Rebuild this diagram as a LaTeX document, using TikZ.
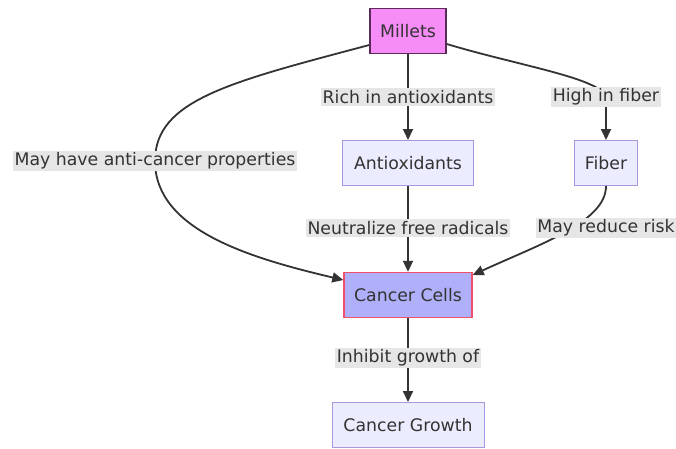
\documentclass[tikz,border=0pt]{standalone}
\usepackage{fontspec}
\setmainfont{DejaVu Sans}
\usetikzlibrary{arrows.meta,backgrounds}
\definecolor{txt}{HTML}{333333}
\definecolor{defill}{HTML}{ECECFF}
\definecolor{deline}{HTML}{A898E0}
\definecolor{milfill}{HTML}{F68CF6}
\definecolor{milline}{HTML}{5A2A5A}
\definecolor{ccfill}{HTML}{B0B0FA}
\definecolor{ccline}{HTML}{F0506A}
\definecolor{labbg}{HTML}{E6E6E6}
\tikzset{
  box/.style={draw=deline, fill=defill, line width=1pt, minimum height=45pt, inner sep=0pt, text=txt, font=\fontsize{17.3}{20}\selectfont},
  elabel/.style={fill=labbg, inner xsep=1.5pt, inner ysep=2pt, text=txt, font=\fontsize{17.3}{20}\selectfont},
  conn/.style={draw=txt, line width=1.8pt, -{Triangle[length=11pt,width=10pt]}},
}
\begin{document}
\begin{tikzpicture}[x=1pt,y=-1pt]
\useasboundingbox (0,0) rectangle (676,448);
\node[box, fill=milfill, draw=milline, line width=1.4pt, minimum width=76pt] (m) at (408,31) {Millets};
\node[box, minimum width=131pt] (a) at (408,163) {Antioxidants};
\node[box, minimum width=63pt] (f) at (606,163) {Fiber};
\node[box, fill=ccfill, draw=ccline, line width=1.4pt, minimum width=128pt] (c) at (408,295) {Cancer Cells};
\node[box, minimum width=152pt] (g) at (408,425) {Cancer Growth};
\node[elabel] (l1) at (408,97) {Rich in antioxidants};
\node[elabel] (l2) at (606,97) {High in fiber};
\node[elabel] (l3) at (155,161) {May have anti-cancer properties};
\node[elabel] (l4) at (408,228) {Neutralize free radicals};
\node[elabel] (l5) at (606,228) {May reduce risk};
\node[elabel] (l6) at (408,358) {Inhibit growth of};
\begin{scope}[on background layer]
\draw[conn] (m.south) -- (a.north);
\draw[conn] (m.east |- 0,44) .. controls (520,66) and (600,78) .. (l2.center) .. controls (606,115) .. (f.north);
\draw[conn] (m.west |- 0,45) .. controls (230,82) and (155,100) .. (l3.center) .. controls (155,230) and (250,258) .. (c.west |- 0,280);
\draw[conn] (a.south) -- (c.north);
\draw[conn] (f.south) .. controls (606,222) and (540,244) .. (c.east |- 0,275);
\draw[conn] (c.south) -- (g.north);
\end{scope}
\end{tikzpicture}
\end{document}
